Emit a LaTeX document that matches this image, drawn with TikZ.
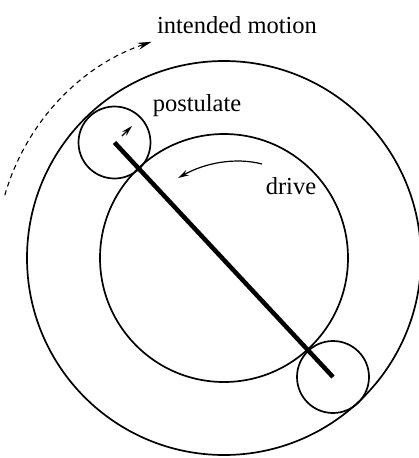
\documentclass[tikz,border=0pt]{standalone}
\usepackage{fontspec}
\setmainfont{Liberation Serif}
\usetikzlibrary{arrows.meta}
\begin{document}
\begin{tikzpicture}[x=1pt,y=1pt,
  ring/.style={circle,draw,line width=1.7pt,inner sep=0pt},
  lbl/.style={font=\fontsize{24.5}{28}\selectfont,inner sep=0pt},
  tip/.style={-{Stealth[length=11pt,width=6pt]}}]
\useasboundingbox (0,0) rectangle (419,-458);
\node[ring,minimum size=394pt] (outer) at (224,-258) {};
\node[ring,minimum size=248pt] (inner) at (224,-258) {};
\node[ring,minimum size=72pt] (p1) at (114.5,-142.5) {};
\node[ring,minimum size=72pt] (p2) at (333,-377) {};
\draw[line width=4.5pt] (p1.center) -- (p2.center);
\coordinate (s1) at (122,-136);
\coordinate (s2) at (132,-126);
\draw[tip,line width=1.2pt] (s1) -- (s2);
\coordinate (d1) at (262,-164);
\coordinate (d2) at (178,-178);
\draw[tip,line width=1.2pt] (d1) .. controls (235,-157) and (205,-163) .. (d2);
\draw[-{Stealth[length=14pt,width=7pt]},line width=1.1pt,dash pattern=on 5pt off 4pt] (224,-258) ++(164:228) arc[start angle=164,end angle=108.5,radius=228];
\node[lbl] (im) at (237,-25) {intended motion};
\node[lbl] (pos) at (197,-106) {postulate};
\node[lbl] (dr) at (291,-186) {drive};
\end{tikzpicture}
\end{document}
